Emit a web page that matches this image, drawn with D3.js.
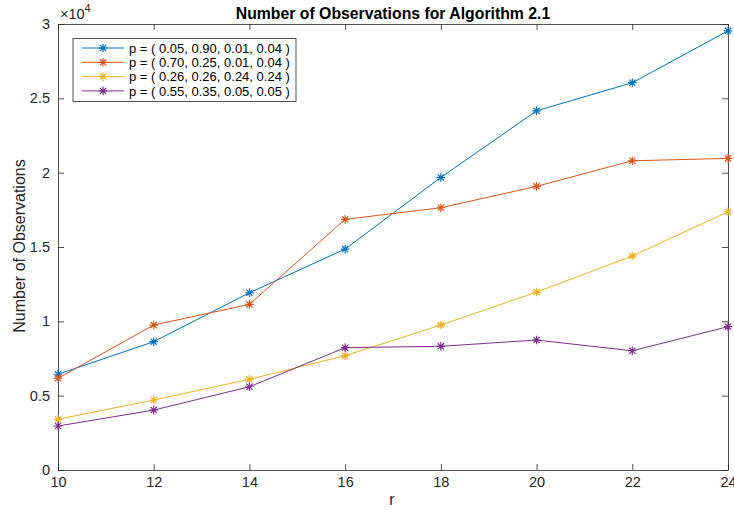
<!DOCTYPE html>
<html>
<head>
<meta charset="utf-8">
<script src="https://cdn.jsdelivr.net/npm/d3@7"></script>
<style>
  body { margin: 0; background: #fff; }
  text { font-family: "Liberation Sans", Arial, sans-serif; fill: #262626; }
</style>
</head>
<body>
<script>
const rValues = [10, 12, 14, 16, 18, 20, 22, 24]
const seriesNames = [
  "p = ( 0.05, 0.90, 0.01, 0.04 )",
  "p = ( 0.70, 0.25, 0.01, 0.04 )",
  "p = ( 0.26, 0.26, 0.24, 0.24 )",
  "p = ( 0.55, 0.35, 0.05, 0.05 )"
]
const blueObs = [6440, 8630, 11920, 14860, 19680, 24160, 26050, 29540]
const orangeObs = [6170, 9750, 11140, 16860, 17640, 19080, 20800, 20960]
const yellowObs = [3410, 4710, 6100, 7690, 9750, 11970, 14390, 17370]
const purpleObs = [2960, 4030, 5600, 8230, 8320, 8740, 8020, 9640]
const xTicks = [10, 12, 14, 16, 18, 20, 22, 24]
const yTicks = [0, 5000, 10000, 15000, 20000, 25000, 30000]
const yTickLabels = ["0", "0.5", "1", "1.5", "2", "2.5", "3"]

const colors = ["#0072BD", "#D95319", "#EDB120", "#7E2F8E"]
const allSeries = [blueObs, orangeObs, yellowObs, purpleObs]

const width = 734, height = 510
const margin = {top: 24, right: 6, bottom: 40, left: 58}

const x = d3.scaleLinear().domain([10, 24]).range([margin.left, width - margin.right])
const y = d3.scaleLinear().domain([0, 30000]).range([height - margin.bottom, margin.top])

const svg = d3.select("body").append("svg")
  .attr("width", width)
  .attr("height", height)

const axColor = "#262626"
const tickLen = 6

// box with inward ticks on all four sides
const plot = svg.append("g")

const xAxisB = d3.axisBottom(x).tickValues(xTicks).tickSizeInner(-tickLen).tickSizeOuter(0).tickPadding(7)
const xAxisT = d3.axisTop(x).tickValues(xTicks).tickSizeInner(-tickLen).tickSizeOuter(0).tickFormat("")
const yAxisL = d3.axisLeft(y).tickValues(yTicks).tickSizeInner(-tickLen).tickSizeOuter(0).tickPadding(8)
  .tickFormat((d, i) => yTickLabels[i])
const yAxisR = d3.axisRight(y).tickValues(yTicks).tickSizeInner(-tickLen).tickSizeOuter(0).tickFormat("")

function styleAxis(g) {
  g.select(".domain").attr("stroke", axColor).attr("stroke-width", 0.8)
  g.selectAll(".tick line").attr("stroke", axColor).attr("stroke-width", 0.8)
  g.selectAll(".tick text").attr("font-size", 14.5).attr("fill", axColor)
    .style("font-family", "'Liberation Sans', Arial, sans-serif")
}

plot.append("g").attr("transform", `translate(0,${height - margin.bottom})`).call(xAxisB).call(styleAxis)
plot.append("g").attr("transform", `translate(0,${margin.top})`).call(xAxisT).call(styleAxis)
plot.append("g").attr("transform", `translate(${margin.left},0)`).call(yAxisL).call(styleAxis)
plot.append("g").attr("transform", `translate(${width - margin.right},0)`).call(yAxisR).call(styleAxis)

// asterisk marker
function star(g, cx, cy, col) {
  const s = 4.3, d = s * 0.72
  const p = `M${cx - s},${cy}L${cx + s},${cy}M${cx},${cy - s}L${cx},${cy + s}` +
    `M${cx - d},${cy - d}L${cx + d},${cy + d}M${cx - d},${cy + d}L${cx + d},${cy - d}`
  g.append("path").attr("d", p).attr("stroke", col).attr("stroke-width", 1.2).attr("fill", "none")
}

const line = d3.line().x((d, i) => x(rValues[i])).y(d => y(d))

allSeries.forEach((vals, k) => {
  const g = svg.append("g")
  g.append("path").datum(vals)
    .attr("d", line)
    .attr("fill", "none")
    .attr("stroke", colors[k])
    .attr("stroke-width", 1)
  vals.forEach((v, i) => star(g, x(rValues[i]), y(v), colors[k]))
})

// title
svg.append("text")
  .attr("x", 393)
  .attr("y", 18.5)
  .attr("text-anchor", "middle")
  .attr("font-size", 15.8)
  .attr("font-weight", "bold")
  .style("fill", "#000")
  .text("Number of Observations for Algorithm 2.1")

// exponent label
const expo = svg.append("text").attr("x", 60).attr("y", 19).attr("font-size", 14.5)
expo.append("tspan").text("\u00d710")
expo.append("tspan").attr("dy", -7).attr("font-size", 11).text("4")

// axis labels
svg.append("text")
  .attr("x", 392)
  .attr("y", 505)
  .attr("text-anchor", "middle")
  .attr("font-size", 16)
  .text("r")

svg.append("text")
  .attr("transform", `translate(25,246) rotate(-90)`)
  .attr("text-anchor", "middle")
  .attr("font-size", 16)
  .text("Number of Observations")

// legend
const leg = svg.append("g")
leg.append("rect")
  .attr("x", 73).attr("y", 38.5)
  .attr("width", 223).attr("height", 63)
  .attr("fill", "#fff")
  .attr("stroke", axColor)
  .attr("stroke-width", 0.8)

seriesNames.forEach((name, k) => {
  const ly = 48 + k * 14.3
  leg.append("line")
    .attr("x1", 82).attr("x2", 124)
    .attr("y1", ly).attr("y2", ly)
    .attr("stroke", colors[k]).attr("stroke-width", 1)
  star(leg, 103, ly, colors[k])
  leg.append("text")
    .attr("x", 129).attr("y", ly + 4.6)
    .attr("font-size", 13)
    .style("fill", "#000")
    .text(name)
})
</script>
</body>
</html>
